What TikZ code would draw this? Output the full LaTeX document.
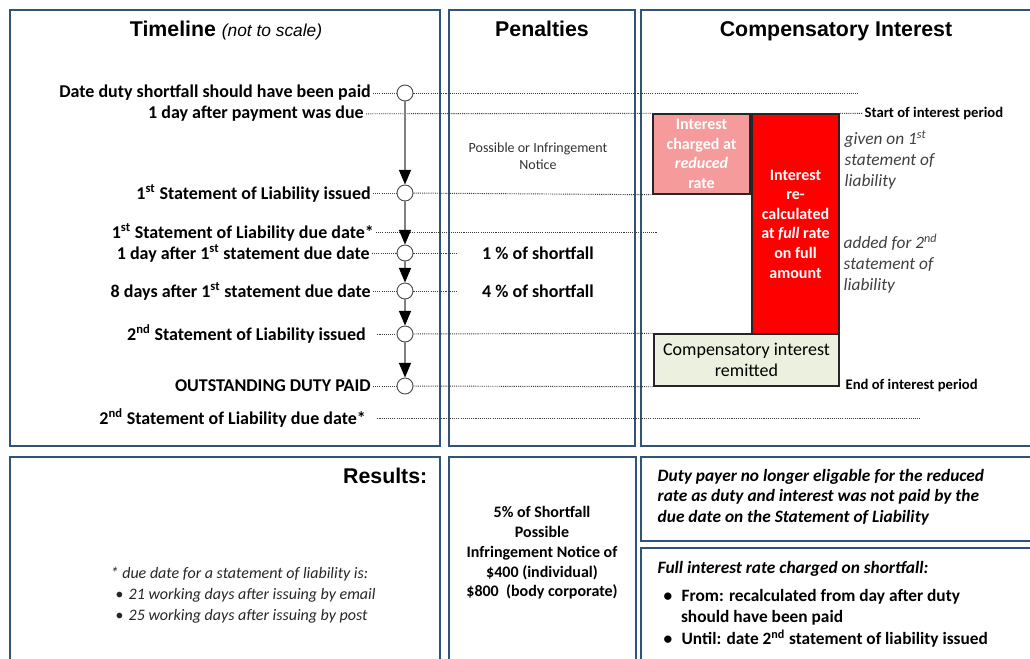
\documentclass[tikz,border=0pt]{standalone}
\usepackage{fontspec}
\setmainfont{Carlito}
\newfontfamily\headfont{Liberation Sans}
\usetikzlibrary{arrows.meta}
\definecolor{framecol}{RGB}{47,84,120}
\definecolor{pinkfill}{RGB}{245,155,155}
\definecolor{redfill}{RGB}{255,0,0}
\definecolor{greenfill}{RGB}{235,241,222}
\definecolor{dotcol}{RGB}{60,60,60}
\begin{document}
\begin{tikzpicture}[x=0.75pt,y=-0.75pt,
  panel/.style={draw=framecol,line width=1.4pt},
  title/.style={anchor=base,font=\headfont\bfseries\fontsize{16}{19}\selectfont},
  lab/.style={anchor=east,inner sep=1.5pt,font=\bfseries\fontsize{13.5}{16}\selectfont},
  pen/.style={font=\bfseries\fontsize{13.5}{16}\selectfont},
  dots/.style={draw=dotcol,line width=0.7pt,dash pattern=on 0.8pt off 0.8pt},
  stop/.style={circle,draw=black!70,fill=white,line width=0.7pt,minimum size=12pt,inner sep=0pt},
  flow/.style={draw=black!50,line width=1.1pt,-{Triangle[length=11pt,width=9pt,color=black,fill=black]}},
  ratebox/.style={draw=black!85,line width=1.1pt,text=white,align=center,inner sep=0pt,font=\bfseries\fontsize{12}{14.7}\selectfont},
  note/.style={anchor=west,align=left,text=black!75,font=\itshape\fontsize{13}{15.75}\selectfont},
  edge/.style={anchor=west,inner sep=1pt,font=\bfseries\fontsize{11}{13}\selectfont}
]
\clip (0,0) rectangle (1030,659);
\fill[white] (0,0) rectangle (1030,659);
\draw[panel] (10,10) rectangle (440,446);
\draw[panel] (449,10) rectangle (635,446);
\draw[panel] (641,10) rectangle (1045,446);
\draw[panel] (10,457) rectangle (440,675);
\draw[panel] (449,457) rectangle (636,675);
\draw[panel] (641,457) rectangle (1045,541);
\draw[panel] (641,548) rectangle (1045,675);

\node[title] (ttime) at (226,37) {Timeline {\mdseries\itshape\fontsize{13}{16}\selectfont (not to scale)}};
\node[title] (tpen) at (542,37) {Penalties};
\node[title] (tint) at (836,37) {Compensatory Interest};

\node[lab] (t0) at (373,93) {Date duty shortfall should have been paid};
\node[lab] (t1) at (366,114) {1 day after payment was due};
\node[lab] (t2) at (373,193) {1\textsuperscript{st} Statement of Liability issued};
\node[lab] (t3) at (376,232) {1\textsuperscript{st} Statement of Liability due date*};
\node[lab] (t4) at (372,253) {1 day after 1\textsuperscript{st} statement due date};
\node[lab] (t5) at (373,291) {8 days after 1\textsuperscript{st} statement due date};
\node[lab] (t6) at (368,334) {2\textsuperscript{nd} Statement of Liability issued};
\node[lab] (t7) at (373,386) {OUTSTANDING DUTY PAID};
\node[lab] (t8) at (368,418) {2\textsuperscript{nd} Statement of Liability due date*};

\node[stop] (c0) at (405,93) {};
\node[stop] (c2) at (405,193) {};
\node[stop] (c4) at (405,253) {};
\node[stop] (c5) at (405,291) {};
\node[stop] (c6) at (405,334) {};
\node[stop] (c7) at (405,386) {};

\node[ratebox,fill=pinkfill,minimum width=72.75pt,minimum height=60pt] (reduced) at (701.5,154) {Interest\\charged at\\\textit{reduced}\\rate};
\node[ratebox,fill=redfill,minimum width=65.25pt,minimum height=165pt] (full) at (795.5,224) {Interest\\re-\\calculated\\at \textit{full} rate\\on full\\amount};
\node[draw=black!85,line width=1.1pt,fill=greenfill,align=center,inner sep=0pt,minimum width=138.75pt,minimum height=39pt,font=\fontsize{13.5}{15.75}\selectfont] (remit) at (746.5,360) {Compensatory interest\\remitted};

\node[edge] (start) at (863,114) {Start of interest period};
\node[edge] (finish) at (844,386) {End of interest period};
\node[note] (given) at (840,160) {given on 1\textsuperscript{st}\\statement of\\liability};
\node[note] (added) at (839,264) {added for 2\textsuperscript{nd}\\statement of\\liability};

\node[align=center,text=black!80,font=\fontsize{10.5}{12.5}\selectfont] (notice) at (538,156) {Possible or Infringement\\Notice};
\node[pen] (p1) at (538,253) {1 \% of shortfall};
\node[pen] (p4) at (538,291) {4 \% of shortfall};

\coordinate (e0) at (858,93);
\coordinate (e3) at (657,232);
\coordinate (e4) at (458,253);
\coordinate (e5) at (458,291);
\coordinate (e8) at (921,418);

\draw[dots] (t0) -- (c0);
\draw[dots] (c0) -- (e0);
\draw[dots] (t1) -- (reduced.north west);
\draw[dots] (full.north east) -- (start);
\draw[dots] (t2) -- (c2);
\draw[dots] (c2) -- (reduced.south west);
\draw[dots] (t3) -- (e3);
\draw[dots] (t4) -- (c4);
\draw[dots] (c4) -- (e4);
\draw[dots] (t5) -- (c5);
\draw[dots] (c5) -- (e5);
\draw[dots,shorten <=7pt] (t6) -- (c6);
\draw[dots] (c6) -- (remit.north west);
\draw[dots] (t7) -- (c7);
\draw[dots] (c7) -- (remit.south west);
\draw[dots,shorten <=7pt] (t8) -- (e8);

\draw[flow] (c0) -- (c2);
\draw[flow] (c2) -- (c4);
\draw[flow] (c4) -- (c5);
\draw[flow] (c5) -- (c6);
\draw[flow] (c6) -- (c7);

\node[title,anchor=base east] (results) at (432,483) {Results:};
\node[anchor=west,align=left,text=black!85,font=\itshape\fontsize{12}{15.75}\selectfont] (footnote) at (106,595) {* due date for a statement of liability is:\\\hspace{3.5pt}\textbullet\hspace{4pt}21 working days after issuing by email\\\hspace{3.5pt}\textbullet\hspace{4pt}25 working days after issuing by post};
\node[align=center,font=\bfseries\fontsize{12}{14.8}\selectfont] (fine) at (542,553) {5\% of Shortfall\\Possible\\Infringement Notice of\\\$400 (individual)\\\$800~~(body corporate)};
\node[anchor=west,align=left,font=\bfseries\itshape\fontsize{13}{15.4}\selectfont] (eligible) at (653,497) {Duty payer no longer eligable for the reduced\\rate as duty and interest was not paid by the\\due date on the Statement of Liability};
\node[anchor=west,font=\bfseries\itshape\fontsize{13}{15.4}\selectfont] (fullrate) at (653,569) {Full interest rate charged on shortfall:};
\node[anchor=west,align=left,font=\bfseries\fontsize{13}{16}\selectfont] (period) at (659,618) {\textbullet\hspace{7pt}From: recalculated from day after duty\\\hspace{13pt}should have been paid\\\textbullet\hspace{7pt}Until: date 2\textsuperscript{nd} statement of liability issued};
\end{tikzpicture}
\end{document}
